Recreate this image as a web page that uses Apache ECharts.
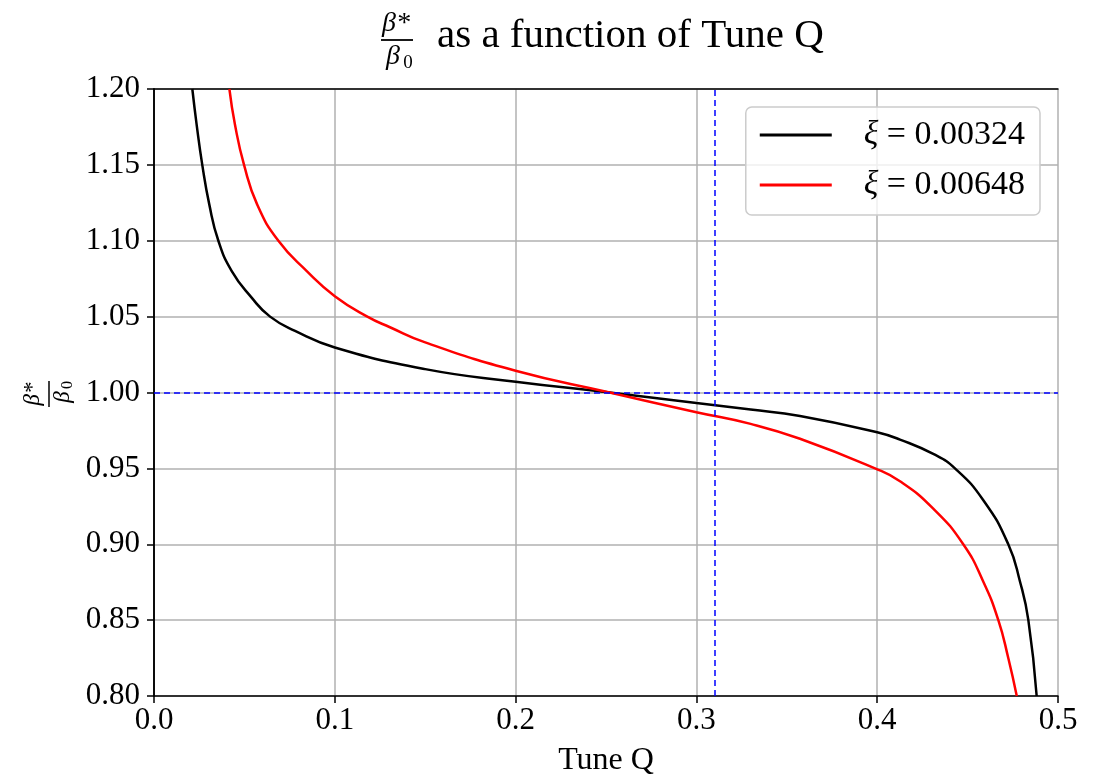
<!DOCTYPE html>
<html>
<head>
<meta charset="utf-8">
<script src="https://cdn.jsdelivr.net/npm/echarts@6/dist/echarts.min.js"></script>
<style>
  html, body { margin: 0; padding: 0; background: #fff; }
  #main { width: 1102px; height: 782px; }
</style>
</head>
<body>
<div id="main"></div>
<script>
// values
const tuneBlack = [0.0212, 0.0236, 0.0267, 0.0306, 0.0356, 0.043, 0.054, 0.0642, 0.078, 0.1, 0.15, 0.2, 0.252, 0.3, 0.33, 0.3573, 0.4, 0.4126, 0.431, 0.443, 0.4587, 0.4725, 0.479, 0.4836, 0.4882]
const ratioBlack = [1.2, 1.1764, 1.15, 1.1238, 1.1, 1.08, 1.0625, 1.05, 1.0406, 1.0297, 1.0154, 1.0071, 1.0, 0.9931, 0.9888, 0.9845, 0.9738, 0.969, 0.9595, 0.95, 0.929, 0.9, 0.8753, 0.85, 0.8]
const tuneRed = [0.0417, 0.0448, 0.0498, 0.0571, 0.0688, 0.0845, 0.1, 0.118, 0.1305, 0.15, 0.2, 0.252, 0.3, 0.33, 0.3573, 0.3988, 0.4126, 0.431, 0.4476, 0.4587, 0.467, 0.4725, 0.4772]
const ratioRed = [1.2, 1.1764, 1.15, 1.1238, 1.1, 1.08, 1.0635, 1.05, 1.043, 1.033, 1.0143, 1.0, 0.987, 0.9793, 0.9695, 0.95, 0.9415, 0.9235, 0.9, 0.8753, 0.85, 0.825, 0.8]
const seriesNames = ['ξ = 0.00324', 'ξ = 0.00648']
const refTune = 0.31
const refRatio = 1.0

const serif = 'Liberation Serif'

const pairs = (xs, ys) => xs.map((x, i) => [x, ys[i]])

const frameAxis = {
  show: true,
  axisLine: { show: true, lineStyle: { color: '#000', width: 1.5 } },
  axisTick: { show: false },
  axisLabel: { show: false },
  splitLine: { show: false },
}

const getOption = () => {
  let option = {
    animation: false,
    backgroundColor: '#fff',
    grid: {
      left: 154,
      right: 44,
      top: 89,
      bottom: 84,
    },
    legend: {
      orient: 'vertical',
      right: 62,
      top: 107,
      icon: 'rect',
      itemWidth: 72,
      itemHeight: 3,
      itemGap: 16,
      padding: [11, 15, 13, 14],
      backgroundColor: 'rgba(255,255,255,0.8)',
      borderColor: '#cccccc',
      borderWidth: 1.5,
      borderRadius: 6,
      data: seriesNames,
      formatter: (name) => '{i|ξ} ' + name.slice(2),
      textStyle: {
        fontFamily: serif,
        fontSize: 34,
        color: '#000',
        padding: [0, 0, 0, 27],
        rich: {
          i: { fontFamily: serif, fontStyle: 'italic', fontSize: 34, color: '#000' },
        },
      },
    },
    xAxis: [
      {
        type: 'value',
        min: 0,
        max: 0.5,
        interval: 0.1,
        name: 'Tune Q',
        nameLocation: 'middle',
        nameGap: 49,
        nameTextStyle: { fontFamily: serif, fontSize: 32, color: '#000' },
        axisLine: { lineStyle: { color: '#000', width: 1.5 } },
        axisTick: { show: true, length: 7, lineStyle: { color: '#000', width: 1.5 } },
        axisLabel: {
          margin: 9,
          fontFamily: serif,
          fontSize: 31,
          color: '#000',
          formatter: (v) => v.toFixed(1),
        },
        splitLine: { show: true, lineStyle: { color: '#b0b0b0', width: 1.5 } },
      },
      Object.assign({ type: 'value', position: 'top', min: 0, max: 0.5 }, frameAxis),
    ],
    yAxis: [
      {
        type: 'value',
        min: 0.8,
        max: 1.2,
        interval: 0.05,
        axisLine: { show: true, lineStyle: { color: '#000', width: 1.5 } },
        axisTick: { show: true, length: 7, lineStyle: { color: '#000', width: 1.5 } },
        axisLabel: {
          margin: 14,
          fontFamily: serif,
          fontSize: 31,
          color: '#000',
          formatter: (v) => v.toFixed(2),
        },
        splitLine: { show: true, lineStyle: { color: '#b0b0b0', width: 1.5 } },
      },
      Object.assign({ type: 'value', position: 'right', min: 0.8, max: 1.2 }, frameAxis),
    ],
    graphic: [
      // title: fraction beta*/beta0 followed by the text
      { type: 'text', x: 396, y: 24, style: { text: 'β*', fontFamily: serif, fontStyle: 'italic', fontSize: 28, fill: '#000', align: 'center', verticalAlign: 'middle' } },
      { type: 'line', shape: { x1: 381, y1: 40, x2: 413, y2: 40 }, style: { stroke: '#000', lineWidth: 1.8 } },
      { type: 'text', x: 393, y: 57, style: { text: 'β', fontFamily: serif, fontStyle: 'italic', fontSize: 28, fill: '#000', align: 'center', verticalAlign: 'middle' } },
      { type: 'text', x: 408, y: 63, style: { text: '0', fontFamily: serif, fontSize: 19, fill: '#000', align: 'center', verticalAlign: 'middle' } },
      { type: 'text', x: 437, y: 36, style: { text: 'as a function of Tune Q', fontFamily: serif, fontSize: 41, fill: '#000', align: 'left', verticalAlign: 'middle' } },
      // y axis name, rotated fraction
      {
        type: 'group',
        x: 49,
        y: 394,
        rotation: Math.PI / 2,
        children: [
          { type: 'text', x: 0, y: -16, style: { text: 'β*', fontFamily: serif, fontStyle: 'italic', fontSize: 23, fill: '#000', align: 'center', verticalAlign: 'middle' } },
          { type: 'line', shape: { x1: -13, y1: 0, x2: 13, y2: 0 }, style: { stroke: '#000', lineWidth: 1.5 } },
          { type: 'text', x: -3, y: 14, style: { text: 'β', fontFamily: serif, fontStyle: 'italic', fontSize: 23, fill: '#000', align: 'center', verticalAlign: 'middle' } },
          { type: 'text', x: 9, y: 19, style: { text: '0', fontFamily: serif, fontSize: 16, fill: '#000', align: 'center', verticalAlign: 'middle' } },
        ],
      },
    ],
    series: [
      {
        name: seriesNames[0],
        type: 'line',
        symbol: 'none',
        smooth: 0.5,
        color: '#000',
        lineStyle: { width: 2.5, color: '#000' },
        data: pairs(tuneBlack, ratioBlack),
        z: 3,
        markLine: {
          silent: true,
          symbol: 'none',
          label: { show: false },
          lineStyle: { color: '#0000ff', type: [6, 4], width: 1.5 },
          data: [{ xAxis: refTune }, { yAxis: refRatio }],
        },
      },
      {
        name: seriesNames[1],
        type: 'line',
        symbol: 'none',
        smooth: 0.5,
        color: '#ff0000',
        lineStyle: { width: 2.5, color: '#ff0000' },
        data: pairs(tuneRed, ratioRed),
        z: 3,
      },
    ],
  }
  return option
}

let chart = echarts.init(document.getElementById('main'))
chart.setOption(getOption())
</script>
</body>
</html>
